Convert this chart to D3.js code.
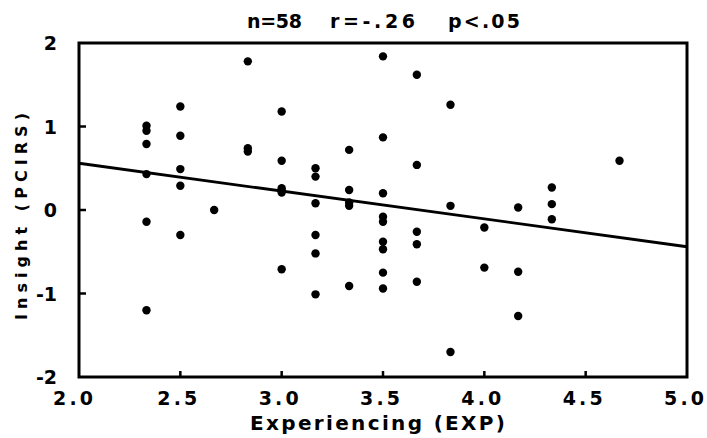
<!DOCTYPE html>
<html><head><meta charset="utf-8">
<script src="https://cdn.jsdelivr.net/npm/d3@7"></script>
<style>
html,body{margin:0;padding:0;background:#fff;}
svg text{font-family:"DejaVu Sans",sans-serif;font-weight:bold;fill:#000;}
</style></head>
<body><svg id="c" width="707" height="438"></svg>
<script>
// EXP column values and the PCIRS values observed at each
const expValues = [2.333, 2.5, 2.667, 2.833, 3.0, 3.167, 3.333, 3.5, 3.667, 3.833, 4.0, 4.167, 4.333, 4.667];
const pcirsValues = [
  [1.01, 0.95, 0.79, 0.43, -0.14, -1.20],
  [1.24, 0.89, 0.49, 0.29, -0.30],
  [0.00],
  [1.78, 0.74, 0.70],
  [1.18, 0.59, 0.26, 0.23, 0.21, -0.71],
  [0.50, 0.40, 0.08, -0.30, -0.52, -1.01],
  [0.72, 0.24, 0.09, 0.05, -0.91],
  [1.84, 0.87, 0.20, -0.08, -0.14, -0.38, -0.47, -0.75, -0.94],
  [1.62, 0.54, -0.26, -0.41, -0.86],
  [1.26, 0.05, -1.70],
  [-0.21, -0.69],
  [0.03, -0.74, -1.27],
  [0.27, 0.07, -0.11],
  [0.59]
];
const regressionEnds = [[2.0, 0.56], [5.0, -0.44]];
const xTicks = [2.0, 2.5, 3.0, 3.5, 4.0, 4.5, 5.0];
const xTickLabels = ["2.0", "2.5", "3.0", "3.5", "4.0", "4.5", "5.0"];
const yTicks = [2, 1, 0, -1, -2];
const yTickLabels = ["2", "1", "0", "-1", "-2"];
const titleParts = ["n=58", "r=-.26", "p<.05"];
const xTitle = "Experiencing (EXP)";
const yTitle = "Insight (PCIRS)";

const points = [];
expValues.forEach((e, i) => pcirsValues[i].forEach(v => points.push({x: e, y: v})));

const svg = d3.select("#c");
const L = 79, R = 687, T = 43, B = 377;
const x = d3.scaleLinear().domain([2, 5]).range([L, R]);
const y = d3.scaleLinear().domain([-2, 2]).range([B, T]);

// frame
svg.append("rect").attr("x", L).attr("y", T).attr("width", R - L).attr("height", B - T)
  .attr("fill", "none").attr("stroke", "#000").attr("stroke-width", 3);

// y ticks (inward)
const innerY = yTicks.filter(t => t > -2 && t < 2);
svg.selectAll(".yt").data(innerY).enter().append("line")
  .attr("x1", L).attr("x2", L + 7).attr("y1", d => y(d)).attr("y2", d => y(d))
  .attr("stroke", "#000").attr("stroke-width", 2.5);
// x ticks (inward, upward)
svg.selectAll(".xt").data(xTicks.filter(t => t > 2 && t < 5)).enter().append("line")
  .attr("x1", d => x(d)).attr("x2", d => x(d)).attr("y1", B).attr("y2", B - 6)
  .attr("stroke", "#000").attr("stroke-width", 2.5);

// y tick labels
svg.selectAll(".yl").data(yTicks).enter().append("text")
  .attr("x", 57).attr("y", d => y(d) + 7)
  .attr("text-anchor", "end").attr("font-size", 19)
  .text((d, i) => yTickLabels[i]);

// x tick labels
svg.selectAll(".xl").data(xTicks).enter().append("text")
  .attr("x", (d, i) => x(d) - (i === 0 ? 6 : 3)).attr("y", 405)
  .attr("text-anchor", "middle").attr("font-size", 19)
  .attr("textLength", 40).attr("lengthAdjust", "spacing")
  .text((d, i) => xTickLabels[i]);

// title
const titleX = [247, 330, 448], titleW = [55, 85, 72];
svg.selectAll(".tt").data(titleParts).enter().append("text")
  .attr("x", (d, i) => titleX[i]).attr("y", 28)
  .attr("font-size", 19).attr("textLength", (d, i) => titleW[i]).attr("lengthAdjust", "spacing")
  .text(d => d);

// axis titles
svg.append("text").attr("x", 250).attr("y", 430).attr("font-size", 20)
  .attr("textLength", 255).attr("lengthAdjust", "spacing").text(xTitle);
svg.append("text").attr("transform", "translate(27,320) rotate(-90)")
  .attr("font-size", 16).attr("textLength", 207).attr("lengthAdjust", "spacing").text(yTitle);

// regression line
svg.append("line")
  .attr("x1", x(regressionEnds[0][0])).attr("y1", y(regressionEnds[0][1]))
  .attr("x2", x(regressionEnds[1][0])).attr("y2", y(regressionEnds[1][1]))
  .attr("stroke", "#000").attr("stroke-width", 2.8);

// points
svg.selectAll(".pt").data(points).enter().append("circle")
  .attr("cx", d => x(d.x)).attr("cy", d => y(d.y)).attr("r", 4.2).attr("fill", "#000");
</script></body></html>
